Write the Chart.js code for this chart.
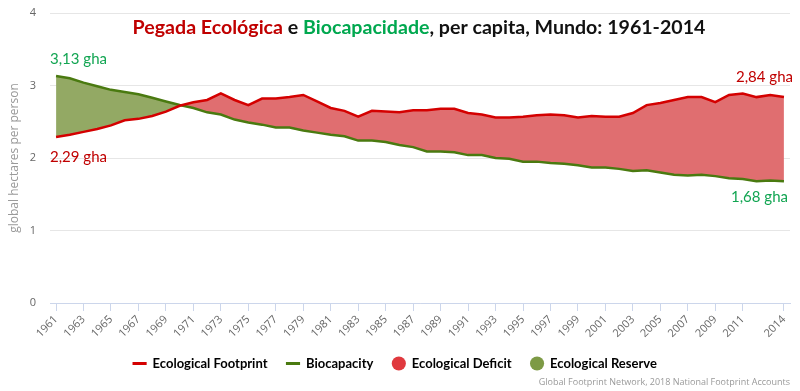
<!DOCTYPE html>
<html>
<head>
<meta charset="utf-8">
<script src="https://cdn.jsdelivr.net/npm/chart.js@4/dist/chart.umd.min.js"></script>
<style>
  html, body { margin: 0; padding: 0; background: #fff; }
  #wrap { width: 800px; height: 391px; }
</style>
</head>
<body>
<div id="wrap"><canvas id="c" width="800" height="391"></canvas></div>
<script>
const years = [
  1961, 1962, 1963, 1964, 1965, 1966, 1967, 1968, 1969, 1970,
  1971, 1972, 1973, 1974, 1975, 1976, 1977, 1978, 1979, 1980,
  1981, 1982, 1983, 1984, 1985, 1986, 1987, 1988, 1989, 1990,
  1991, 1992, 1993, 1994, 1995, 1996, 1997, 1998, 1999, 2000,
  2001, 2002, 2003, 2004, 2005, 2006, 2007, 2008, 2009, 2010,
  2011, 2012, 2013, 2014
];
// global hectares per person
const footprint = [
  2.29, 2.32, 2.36, 2.40, 2.45, 2.52, 2.54, 2.58, 2.64, 2.72,
  2.77, 2.80, 2.89, 2.80, 2.73, 2.82, 2.82, 2.84, 2.87, 2.78,
  2.69, 2.65, 2.57, 2.65, 2.64, 2.63, 2.66, 2.66, 2.68, 2.68,
  2.62, 2.60, 2.56, 2.56, 2.57, 2.59, 2.60, 2.59, 2.56, 2.58,
  2.57, 2.57, 2.62, 2.73, 2.76, 2.80, 2.84, 2.84, 2.77, 2.87,
  2.89, 2.84, 2.87, 2.84
];
const biocapacity = [
  3.13, 3.10, 3.04, 2.99, 2.94, 2.91, 2.88, 2.83, 2.78, 2.73,
  2.69, 2.63, 2.60, 2.53, 2.49, 2.46, 2.42, 2.42, 2.38, 2.35,
  2.32, 2.30, 2.24, 2.24, 2.22, 2.18, 2.15, 2.09, 2.09, 2.08,
  2.04, 2.04, 2.00, 1.99, 1.95, 1.95, 1.93, 1.92, 1.90, 1.87,
  1.87, 1.85, 1.82, 1.83, 1.80, 1.77, 1.76, 1.77, 1.75, 1.72,
  1.71, 1.68, 1.69, 1.68
];
const xTickYears = [
  1961, 1963, 1965, 1967, 1969, 1971, 1973, 1975, 1977, 1979,
  1981, 1983, 1985, 1987, 1989, 1991, 1993, 1995, 1997, 1999,
  2001, 2003, 2005, 2007, 2009, 2011, 2014
];
const yTicks = [0, 1, 2, 3, 4];
const legendNames = ['Ecological Footprint', 'Biocapacity', 'Ecological Deficit', 'Ecological Reserve'];

const RED_LINE = '#d40000';
const GREEN_LINE = '#4a7a10';
const RED_FILL = '#e06e70';
const GREEN_FILL = '#93a964';
const TXT_RED = '#c00000';
const TXT_GREEN = '#12a552';
const FONT = 'Lato, "Open Sans", sans-serif';

const toPoints = arr => arr.map((v, i) => ({ x: years[i], y: v }));

// multi-colour title, value callouts and source line
const overlayPlugin = {
  id: 'overlay',
  afterDatasetsDraw(chart) {
    const ctx = chart.ctx;
    const xs = chart.scales.x, ys = chart.scales.y;
    ctx.save();

    // title
    const parts = [
      ['Pegada Ecológica', TXT_RED],
      [' e ', '#111'],
      ['Biocapacidade', '#00a84f'],
      [', per capita, Mundo: 1961-2014', '#111']
    ];
    ctx.font = 'bold 19.6px ' + FONT;
    ctx.textBaseline = 'middle';
    ctx.textAlign = 'left';
    const total = parts.reduce((s, p) => s + ctx.measureText(p[0]).width, 0);
    let tx = 419 - total / 2;
    parts.forEach(p => {
      ctx.fillStyle = p[1];
      ctx.fillText(p[0], tx, 28);
      tx += ctx.measureText(p[0]).width;
    });

    // callouts
    ctx.font = '15px ' + FONT;
    const first = 0, last = years.length - 1;
    ctx.textAlign = 'left';
    ctx.fillStyle = TXT_GREEN;
    ctx.fillText('3,13 gha', chart.chartArea.left, ys.getPixelForValue(biocapacity[first]) - 17);
    ctx.fillStyle = TXT_RED;
    ctx.fillText('2,29 gha', chart.chartArea.left, ys.getPixelForValue(footprint[first]) + 20);
    ctx.textAlign = 'right';
    ctx.fillStyle = TXT_RED;
    ctx.fillText('2,84 gha', xs.getPixelForValue(years[last]) + 9, ys.getPixelForValue(footprint[last]) - 20);
    ctx.fillStyle = TXT_GREEN;
    ctx.fillText('1,68 gha', xs.getPixelForValue(years[last]) + 4, ys.getPixelForValue(biocapacity[last]) + 16);

    // source
    ctx.font = '9px "Open Sans", sans-serif';
    ctx.fillStyle = '#999';
    ctx.textAlign = 'right';
    ctx.fillText('Global Footprint Network, 2018 National Footprint Accounts', 790, 382);
    ctx.restore();
  }
};

new Chart(document.getElementById('c'), {
  type: 'line',
  data: {
    datasets: [
      {
        label: legendNames[0],
        data: toPoints(footprint),
        borderColor: RED_LINE,
        borderWidth: 2.5,
        pointRadius: 0,
        tension: 0,
        fill: { target: 1, above: RED_FILL, below: GREEN_FILL }
      },
      {
        label: legendNames[1],
        data: toPoints(biocapacity),
        borderColor: GREEN_LINE,
        borderWidth: 2.5,
        pointRadius: 0,
        tension: 0,
        fill: false
      }
    ]
  },
  options: {
    responsive: false,
    animation: false,
    layout: { padding: { top: 13, right: 10, left: 0, bottom: 11 } },
    scales: {
      x: {
        type: 'linear',
        min: 1960.56,
        max: 2014.44,
        afterBuildTicks: s => { s.ticks = xTickYears.map(v => ({ value: v })); },
        afterFit: s => { s.height = 35; s.paddingTop = 0; s.paddingBottom = 0; },
        grid: { drawOnChartArea: false, drawTicks: true, tickLength: 8, color: '#ccd6eb' },
        border: { display: true, color: '#ccd6eb', width: 1 },
        ticks: {
          autoSkip: false,
          maxRotation: 45,
          minRotation: 45,
          padding: 2,
          color: '#666',
          font: { family: '"Open Sans", sans-serif', size: 11 },
          callback: v => String(v)
        }
      },
      y: {
        min: 0,
        max: 4,
        afterBuildTicks: s => { s.ticks = yTicks.map(v => ({ value: v })); },
        afterFit: s => { s.width = 50; s.paddingTop = 0; s.paddingBottom = 0; },
        grid: { color: '#e6e6e6', drawTicks: false },
        border: { display: false },
        ticks: {
          padding: 14,
          color: '#666',
          font: { family: '"Open Sans", sans-serif', size: 11 }
        },
        title: {
          display: true,
          text: 'global hectares per person',
          color: '#999',
          padding: 7,
          font: { family: '"Open Sans", sans-serif', size: 12 }
        }
      }
    },
    plugins: {
      filler: { drawTime: 'beforeDatasetsDraw' },
      tooltip: { enabled: false },
      legend: {
        position: 'bottom',
        onClick: null,
        labels: {
          usePointStyle: true,
          boxHeight: 10,
          padding: 19,
          color: '#333',
          font: { family: FONT, size: 13, weight: 'bold' },
          generateLabels: () => legendNames.map((name, i) => ({
            text: name,
            pointStyle: i < 2 ? 'line' : 'circle',
            strokeStyle: [RED_LINE, GREEN_LINE, '#e0393e', '#7d9a45'][i],
            fillStyle: [RED_LINE, GREEN_LINE, '#e0393e', '#7d9a45'][i],
            lineWidth: i < 2 ? 3 : 0,
            hidden: false,
            datasetIndex: i
          }))
        }
      }
    }
  },
  plugins: [overlayPlugin]
});
</script>
</body>
</html>
